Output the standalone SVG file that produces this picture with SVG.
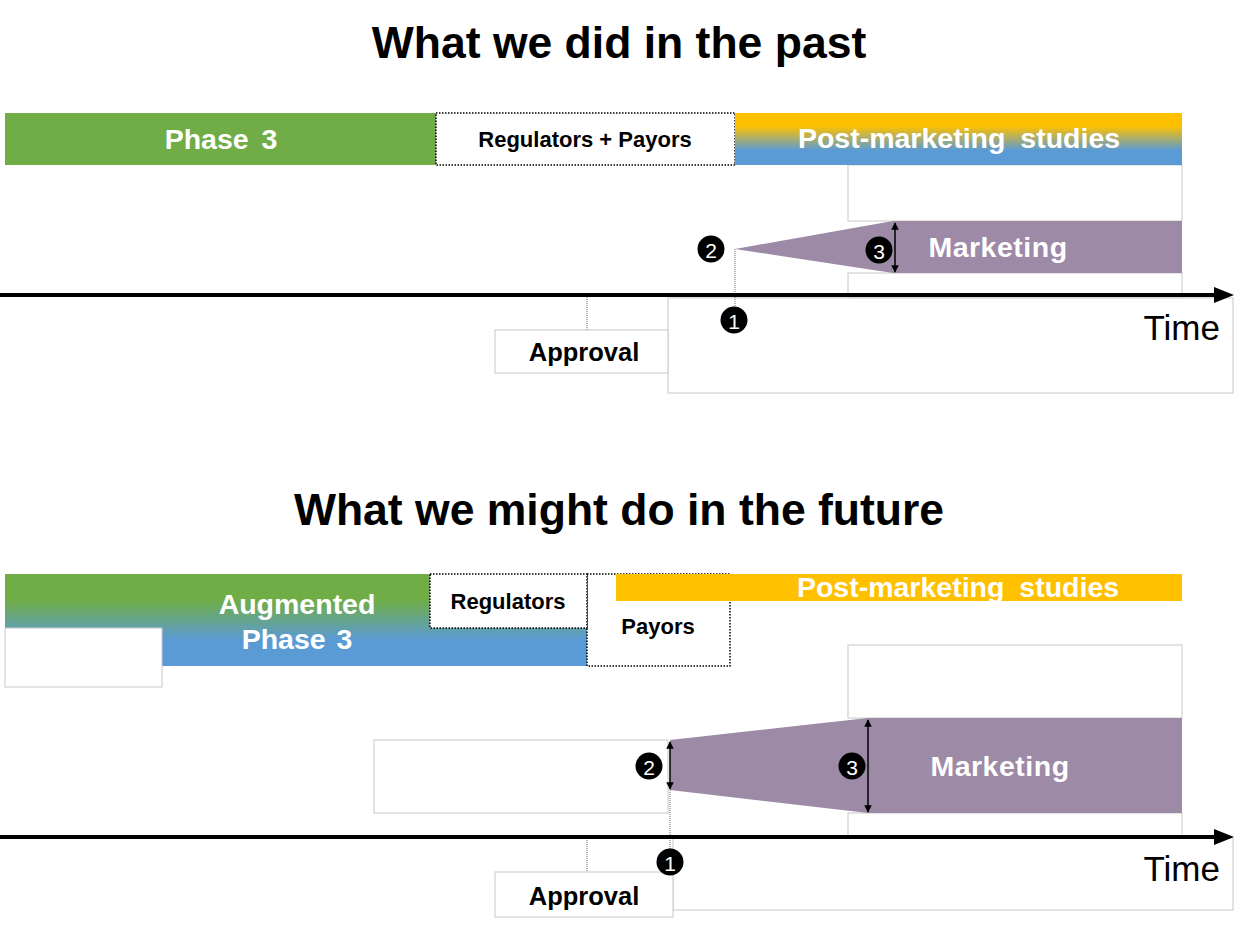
<svg xmlns="http://www.w3.org/2000/svg" width="1251" height="927" viewBox="0 0 1251 927">
<style>
.title{font-family:"Liberation Sans",Arial,sans-serif;font-weight:bold;font-size:44.5px;fill:#000;text-anchor:middle}
.wl{font-family:"Liberation Sans",Arial,sans-serif;font-weight:bold;font-size:28.5px;fill:#fff;text-anchor:middle;dominant-baseline:central}
.bl{font-family:"Liberation Sans",Arial,sans-serif;font-weight:bold;font-size:22px;fill:#000;text-anchor:middle;dominant-baseline:central}
.ap{font-family:"Liberation Sans",Arial,sans-serif;font-weight:bold;font-size:25.5px;fill:#000;text-anchor:middle;dominant-baseline:central}
.time{font-family:"Liberation Sans",Arial,sans-serif;font-size:35px;fill:#000;text-anchor:end;dominant-baseline:central}
.num{font-family:"Liberation Sans",Arial,sans-serif;font-size:21px;fill:#fff;text-anchor:middle;dominant-baseline:central}
.gbox{fill:#fff;stroke:#c8c8c8;stroke-width:1}
.dot{fill:#fff;stroke:#000;stroke-width:1.5;stroke-dasharray:1.5 1.5}
.vdot{stroke:#666;stroke-width:1;stroke-dasharray:1 1}
.axis{stroke:#000;stroke-width:4}
.mk{fill:#9d8aa6}
.dbl{stroke:#000;stroke-width:1.5;marker-start:url(#ah);marker-end:url(#ah)}
</style>
<defs>
<linearGradient id="gyb" x1="0" y1="0" x2="0" y2="1">
<stop offset="0.25" stop-color="#ffc000"/><stop offset="0.72" stop-color="#5b9bd5"/>
</linearGradient>
<linearGradient id="ggb" x1="0" y1="0" x2="0" y2="1">
<stop offset="0.28" stop-color="#70ad47"/><stop offset="0.72" stop-color="#5b9bd5"/>
</linearGradient>
<marker id="ah" viewBox="0 0 10 10" refX="9" refY="5" markerWidth="5" markerHeight="5" orient="auto-start-reverse" markerUnits="strokeWidth">
<path d="M0,0 L10,5 L0,10 z" fill="#000"/>
</marker>
</defs>

<!-- TOP -->
<text class="title" x="619" y="58">What we did in the past</text>

<g id="box-top-a"><rect class="gbox" x="848" y="165" width="334" height="56"/></g>
<g id="box-top-b"><rect class="gbox" x="848" y="273" width="334" height="25"/></g>
<g id="box-top-time"><rect class="gbox" x="668" y="298" width="565" height="95"/>
<text class="time" x="1220" y="327">Time</text></g>
<g id="approval-top"><rect class="gbox" x="495" y="330" width="173" height="43"/>
<text class="ap" x="584" y="352">Approval</text></g>

<g id="phase3-top"><rect x="5" y="113" width="431" height="52" fill="#70ad47"/>
<text class="wl" x="221" y="139" word-spacing="5">Phase 3</text></g>
<g id="regpay-top"><rect class="dot" x="436" y="113" width="299" height="52"/>
<text class="bl" x="585" y="139">Regulators + Payors</text></g>
<g id="pms-top"><rect x="735" y="113" width="447" height="52" fill="url(#gyb)"/>
<text class="wl" x="959" y="138" word-spacing="7">Post-marketing studies</text></g>

<g id="marketing-top"><polygon class="mk" points="735,249 893,221 1182,221 1182,273 893,273"/>
<text class="wl" x="998" y="247" letter-spacing="0.5">Marketing</text></g>

<g id="connectors-top">
<line class="vdot" x1="735" y1="249" x2="735" y2="307"/>
<line class="vdot" x1="587" y1="297" x2="587" y2="330"/>
<line class="axis" x1="0" y1="295" x2="1216" y2="295"/>
<polygon points="1214,287 1234,295 1214,303" fill="#000"/>
<line class="dbl" x1="895" y1="223" x2="895" y2="272"/>
</g>
<g id="c1-top"><circle cx="734" cy="320" r="13.5"/><text class="num" x="734" y="321">1</text></g>
<g id="c2-top"><circle cx="711" cy="249" r="13.5"/><text class="num" x="711" y="250">2</text></g>
<g id="c3-top"><circle cx="879" cy="250" r="13.5"/><text class="num" x="879" y="251">3</text></g>

<!-- BOTTOM -->
<text class="title" x="619" y="525">What we might do in the future</text>

<g id="box-bot-a"><rect class="gbox" x="848" y="645" width="334" height="73"/></g>
<g id="box-bot-left"><rect class="gbox" x="374" y="740" width="294" height="73"/></g>
<g id="box-bot-b"><rect class="gbox" x="848" y="813" width="334" height="25"/></g>
<g id="box-bot-time"><rect class="gbox" x="673" y="838" width="560" height="72"/>
<text class="time" x="1220" y="868">Time</text></g>
<g id="approval-bot"><rect class="gbox" x="495" y="872" width="178" height="45"/>
<text class="ap" x="584" y="896">Approval</text></g>

<g id="aug-phase3"><rect x="5" y="574" width="582" height="92" fill="url(#ggb)"/>
<rect class="gbox" x="5" y="628" width="157" height="59"/>
<text class="wl" x="297" y="604">Augmented</text>
<text class="wl" x="297" y="639" word-spacing="3">Phase 3</text></g>
<g id="payors-bot"><rect class="dot" x="587" y="574" width="143" height="92"/>
<text class="bl" x="658" y="626">Payors</text></g>
<g id="regulators-bot"><rect class="dot" x="430" y="574" width="157" height="54"/>
<text class="bl" x="508" y="601">Regulators</text></g>
<g id="pms-bot"><rect x="616" y="574" width="566" height="27" fill="#ffc000"/>
<text class="wl" x="958" y="587" word-spacing="7">Post-marketing studies</text></g>

<g id="marketing-bot"><polygon class="mk" points="670,740 868,718 1182,718 1182,813 868,813 670,790"/>
<text class="wl" x="1000" y="766" letter-spacing="0.5">Marketing</text></g>

<g id="connectors-bot">
<line class="vdot" x1="670" y1="790" x2="670" y2="850"/>
<line class="vdot" x1="587" y1="838" x2="587" y2="872"/>
<line class="axis" x1="0" y1="837" x2="1216" y2="837"/>
<polygon points="1214,829 1234,837 1214,845" fill="#000"/>
<line class="dbl" x1="670" y1="742" x2="670" y2="789"/>
<line class="dbl" x1="868" y1="720" x2="868" y2="812"/>
</g>
<g id="c1-bot"><circle cx="670" cy="862" r="13.5"/><text class="num" x="670" y="863">1</text></g>
<g id="c2-bot"><circle cx="649" cy="766" r="13.5"/><text class="num" x="649" y="767">2</text></g>
<g id="c3-bot"><circle cx="852" cy="766" r="13.5"/><text class="num" x="852" y="767">3</text></g>
</svg>
